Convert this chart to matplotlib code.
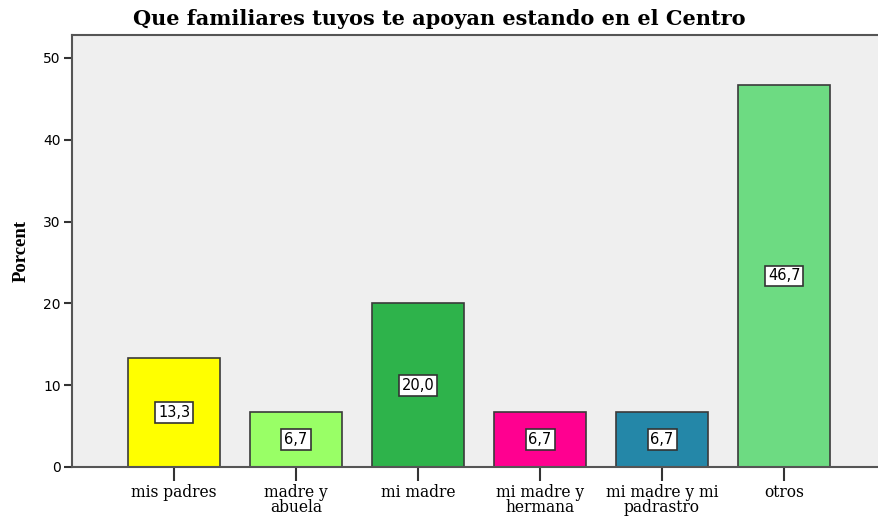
import numpy as np
import matplotlib
matplotlib.use('Agg')
import matplotlib.pyplot as plt

categorias = ['mis padres', 'madre y\nabuela', 'mi madre', 'mi madre y\nhermana',
              'mi madre y mi\npadrastro', 'otros']
porcentajes = [13.3, 6.7, 20.0, 6.7, 6.7, 46.7]
etiquetas = ['13,3', '6,7', '20,0', '6,7', '6,7', '46,7']
colores = ['#FFFF00', '#99FF66', '#2EB34B', '#FF0090', '#2487A8', '#6DDB82']

fig = plt.figure(figsize=(8.79, 5.16), dpi=100)
ax = fig.add_axes([72 / 879, 1 - 467 / 516, 1 - 72 / 879 + 0.01, (467 - 35) / 516])
ax.set_facecolor('#EFEFEF')

x = np.arange(len(categorias))
ax.bar(x, porcentajes, width=0.754, color=colores, edgecolor='#3A3A3A', linewidth=1.2, zorder=2)

for xi, v, t in zip(x, porcentajes, etiquetas):
    ax.text(xi, v / 2, t, ha='center', va='center', fontsize=10.5, family='DejaVu Sans',
            bbox=dict(boxstyle='square,pad=0.2', facecolor='white', edgecolor='#333333', linewidth=1.2),
            zorder=3)

ax.set_xlim(-0.836, 5.85)
ax.set_ylim(0, 52.8)
ax.set_yticks([0, 10, 20, 30, 40, 50])
ax.set_xticks(x)
ax.set_xticklabels(categorias, family='DejaVu Serif', fontsize=11.2, linespacing=0.85)
for lbl in ax.get_yticklabels():
    lbl.set_family('DejaVu Sans')
    lbl.set_fontsize(10)
ax.tick_params(axis='y', length=6, width=1.5, color='#333333', pad=2)
ax.tick_params(axis='x', length=10, width=1.5, color='#333333', pad=2)

for s in ['left', 'bottom', 'top']:
    ax.spines[s].set_color('#555555')
    ax.spines[s].set_linewidth(1.5)
ax.spines['right'].set_visible(False)

ax.set_ylabel('Porcent', family='Liberation Serif', fontweight='bold', fontsize=13.5, labelpad=10)
fig.text(0.5, 0.963, 'Que familiares tuyos te apoyan estando en el Centro', ha='center', va='center',
         family='DejaVu Serif', fontweight='bold', fontsize=15)

fig.savefig('out.png', dpi=100)
